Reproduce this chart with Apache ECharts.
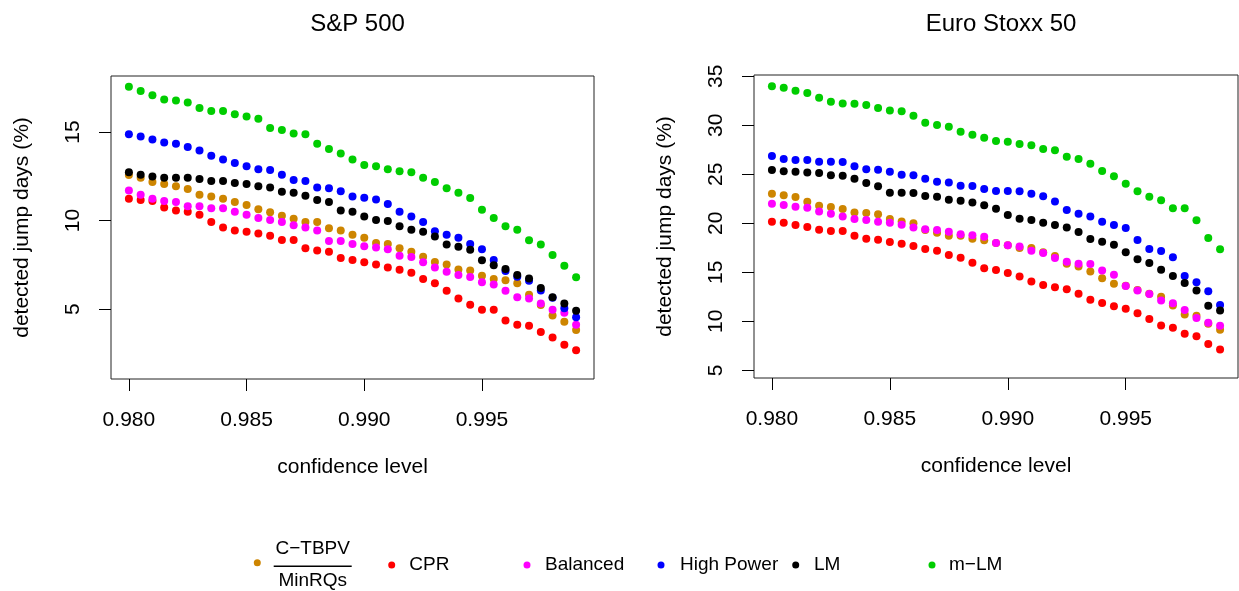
<!DOCTYPE html>
<html>
<head>
<meta charset="utf-8">
<script src="https://cdn.jsdelivr.net/npm/echarts@6/dist/echarts.min.js"></script>
<style>html,body{margin:0;padding:0;background:#fff;}#c{width:1239px;height:591px;}</style>
</head>
<body>
<div id="c"></div>
<script>
// ---- data ----
const confidence = [0.9800,0.9805,0.9810,0.9815,0.9820,0.9825,0.9830,0.9835,0.9840,0.9845,0.9850,0.9855,0.9860,0.9865,0.9870,0.9875,0.9880,0.9885,0.9890,0.9895,0.9900,0.9905,0.9910,0.9915,0.9920,0.9925,0.9930,0.9935,0.9940,0.9945,0.9950,0.9955,0.9960,0.9965,0.9970,0.9975,0.9980,0.9985,0.9990];
const xTicks = [0.980, 0.985, 0.990, 0.995];
const yTicksSP = [5, 10, 15];
const yTicksES = [5, 10, 15, 20, 25, 30, 35];
const seriesNames = ['C−TBPV/MinRQs', 'CPR', 'Balanced', 'High Power', 'LM', 'm−LM'];
const panelTitles = ['S&P 500', 'Euro Stoxx 50'];

// S&P 500
const ctbpvSP = [12.57,12.42,12.18,12.06,11.93,11.78,11.46,11.35,11.23,11.05,10.88,10.63,10.46,10.27,10.10,9.92,9.92,9.56,9.43,9.20,9.03,8.73,8.67,8.43,8.24,7.96,7.66,7.52,7.24,7.18,6.88,6.69,6.62,6.45,5.81,5.23,4.64,4.28,3.81];
const cprSP   = [11.23,11.16,11.10,10.74,10.57,10.50,10.33,9.92,9.61,9.43,9.37,9.26,9.14,8.90,8.90,8.43,8.30,8.24,7.88,7.77,7.64,7.52,7.35,7.22,7.05,6.69,6.45,6.04,5.60,5.24,4.96,4.96,4.36,4.11,4.06,3.70,3.40,2.98,2.68];
const balSP   = [11.70,11.46,11.23,11.10,11.05,10.80,10.80,10.69,10.69,10.50,10.33,10.14,10.03,9.92,9.73,9.61,9.43,8.84,8.84,8.67,8.54,8.48,8.37,8.01,7.94,7.64,7.35,7.11,6.92,6.81,6.51,6.39,6.04,5.66,5.60,5.32,4.96,4.79,4.11];
const hpSP    = [14.87,14.74,14.57,14.40,14.34,14.15,13.96,13.66,13.44,13.25,13.06,12.89,12.85,12.59,12.29,12.23,11.87,11.82,11.65,11.35,11.29,11.18,10.93,10.50,10.22,9.92,9.39,9.20,9.03,8.67,8.37,7.77,7.15,6.83,6.60,6.05,5.64,5.04,4.53];
const lmSP    = [12.72,12.59,12.48,12.42,12.42,12.42,12.34,12.23,12.23,12.12,12.06,11.93,11.87,11.63,11.57,11.40,11.16,11.05,10.57,10.50,10.22,10.03,9.97,9.67,9.48,9.37,9.09,8.65,8.52,8.35,7.75,7.47,7.26,6.92,6.73,6.19,5.66,5.32,4.91];
const mlmSP   = [17.56,17.32,17.07,16.83,16.77,16.66,16.36,16.19,16.19,16.00,15.87,15.75,15.23,15.11,14.92,14.87,14.34,14.04,13.79,13.44,13.14,13.06,12.89,12.78,12.72,12.42,12.18,11.82,11.57,11.27,10.61,10.14,9.67,9.48,8.88,8.65,8.05,7.45,6.79];

// Euro Stoxx 50
const ctbpvES = [23.03,22.86,22.69,22.21,21.80,21.67,21.46,21.12,21.05,20.92,20.44,20.20,20.00,19.32,19.05,18.74,18.74,18.44,18.27,17.99,17.76,17.48,17.48,17.04,16.67,15.88,15.61,15.10,14.39,13.84,13.64,13.20,12.82,12.52,11.63,10.71,10.58,9.76,9.15];
const cprES   = [20.17,20.07,19.83,19.63,19.35,19.22,19.22,18.74,18.44,18.33,18.10,17.93,17.69,17.38,17.21,16.77,16.50,15.99,15.41,15.24,14.93,14.59,14.08,13.71,13.47,13.27,12.82,12.21,11.87,11.53,11.29,10.82,10.24,9.59,9.35,8.74,8.47,7.69,7.14];
const balES   = [22.01,21.87,21.70,21.60,21.22,20.99,20.71,20.44,20.34,20.17,20.07,19.86,19.59,19.39,19.32,19.15,18.88,18.78,18.64,18.00,17.76,17.65,17.21,16.97,16.46,16.09,15.88,15.85,15.20,14.76,13.61,13.16,12.79,12.14,11.84,11.16,10.34,9.86,9.56];
const hpES    = [26.87,26.56,26.46,26.46,26.29,26.29,26.26,25.82,25.51,25.48,25.27,24.97,24.90,24.56,24.25,24.18,23.84,23.81,23.50,23.30,23.30,23.27,23.03,22.76,22.24,21.36,20.99,20.71,20.17,19.83,19.52,18.30,17.38,17.18,16.53,14.63,13.98,13.06,11.67];
const lmES    = [25.44,25.31,25.27,25.20,25.14,24.90,24.86,24.56,24.12,23.78,23.13,23.13,23.10,22.79,22.72,22.41,22.31,22.14,21.84,21.50,20.85,20.48,20.34,20.07,19.83,19.59,19.12,18.40,18.13,17.82,17.04,16.33,15.95,15.27,14.63,13.91,13.16,11.60,11.12];
const mlmES   = [33.98,33.84,33.54,33.30,32.82,32.41,32.24,32.21,32.07,31.77,31.53,31.43,30.99,30.27,30.03,29.86,29.35,29.05,28.74,28.40,28.33,28.10,27.96,27.59,27.45,26.80,26.56,26.09,25.34,24.80,24.05,23.27,22.72,22.35,21.53,21.53,20.31,18.50,17.35];

// ---- styling ----
const colors = ['#CD8500', '#FF0000', '#FF00FF', '#0000FF', '#000000', '#00CD00'];
const FONT = 'Liberation Sans, Arial, Helvetica, sans-serif';
const panels = [
  { vals: [ctbpvSP, cprSP, balSP, hpSP, lmSP, mlmSP], yTicks: yTicksSP, ymin: 1.05, ymax: 18.16,
    grid: { left: 111, top: 76, width: 483, height: 303 }, titleX: 352.5 },
  { vals: [ctbpvES, cprES, balES, hpES, lmES, mlmES], yTicks: yTicksES, ymin: 4.22, ymax: 35.14,
    grid: { left: 754, top: 75, width: 484, height: 303 }, titleX: 996 }
];

const grids = [], xAxes = [], yAxes = [], series = [], titles = [];
panels.forEach((p, pi) => {
  grids.push(Object.assign({ show: true, borderColor: '#222', borderWidth: 1, backgroundColor: 'transparent', containLabel: false }, p.grid));
  titles.push({ text: panelTitles[pi], left: p.titleX, top: 7, textAlign: 'center',
    textStyle: { fontFamily: FONT, fontSize: 24, fontWeight: 'normal', color: '#000' } });
  xAxes.push({
    gridIndex: pi, type: 'value', min: 0.97924, max: 0.99976,
    splitLine: { show: false }, axisLine: { show: false },
    axisTick: { show: true, length: 12, customValues: xTicks, lineStyle: { color: '#000', width: 1 } },
    axisLabel: { customValues: xTicks, formatter: v => v.toFixed(3), margin: 31, fontSize: 21, fontFamily: FONT, color: '#000' },
    name: 'confidence level', nameLocation: 'middle', nameGap: 78,
    nameTextStyle: { fontSize: 21, fontFamily: FONT, color: '#000' }
  });
  yAxes.push({
    gridIndex: pi, type: 'value', min: p.ymin, max: p.ymax,
    splitLine: { show: false }, axisLine: { show: false },
    axisTick: { show: true, length: 12, customValues: p.yTicks, lineStyle: { color: '#000', width: 1 } },
    axisLabel: { customValues: p.yTicks, rotate: 90, margin: 27, fontSize: 21, fontFamily: FONT, color: '#000' },
    name: 'detected jump days (%)', nameLocation: 'middle', nameRotate: 90, nameGap: 78,
    nameTextStyle: { fontSize: 21, fontFamily: FONT, color: '#000' }
  });
  p.vals.forEach((vals, si) => {
    series.push({
      name: seriesNames[si], type: 'scatter', xAxisIndex: pi, yAxisIndex: pi,
      symbol: 'circle', symbolSize: 8,
      itemStyle: { color: colors[si], opacity: 1 },
      data: confidence.map((c, k) => [c, vals[k]]),
      z: 2 + si
    });
  });
});

// legend: one component per entry, placed like the reference
const legendDotX = [257.3, 391.7, 527, 661, 795.7, 932];
const legendTextPad = [7.9, 9.1, 9.5, 10.5, 9.8, 8.5];
const legends = seriesNames.map((n, i) => ({
  data: [n], left: legendDotX[i] - 3.5, top: i === 0 ? 537.3 : 554, padding: 0,
  icon: 'circle', itemWidth: 7, itemHeight: 7, selectedMode: false,
  formatter: name => (i === 0 ? '{t|C−TBPV}\n{l| }\n{b|MinRQs}' : name),
  textStyle: {
    fontFamily: FONT, fontSize: 19, color: '#000', lineHeight: 22, padding: [0, 0, 0, legendTextPad[i]],
    rich: {
      t: { fontFamily: FONT, fontSize: 19, color: '#000', lineHeight: 22, align: 'center', width: 78 },
      l: { fontSize: 1, lineHeight: 14, height: 1.4, width: 78, backgroundColor: '#000', align: 'center' },
      b: { fontFamily: FONT, fontSize: 19, color: '#000', lineHeight: 15, align: 'center', width: 78 }
    }
  }
}));

const chart = echarts.init(document.getElementById('c'), null, { renderer: 'canvas' });
chart.setOption({
  backgroundColor: '#fff',
  animation: false,
  title: titles,
  grid: grids,
  xAxis: xAxes,
  yAxis: yAxes,
  legend: legends,
  series: series
});
</script>
</body>
</html>
